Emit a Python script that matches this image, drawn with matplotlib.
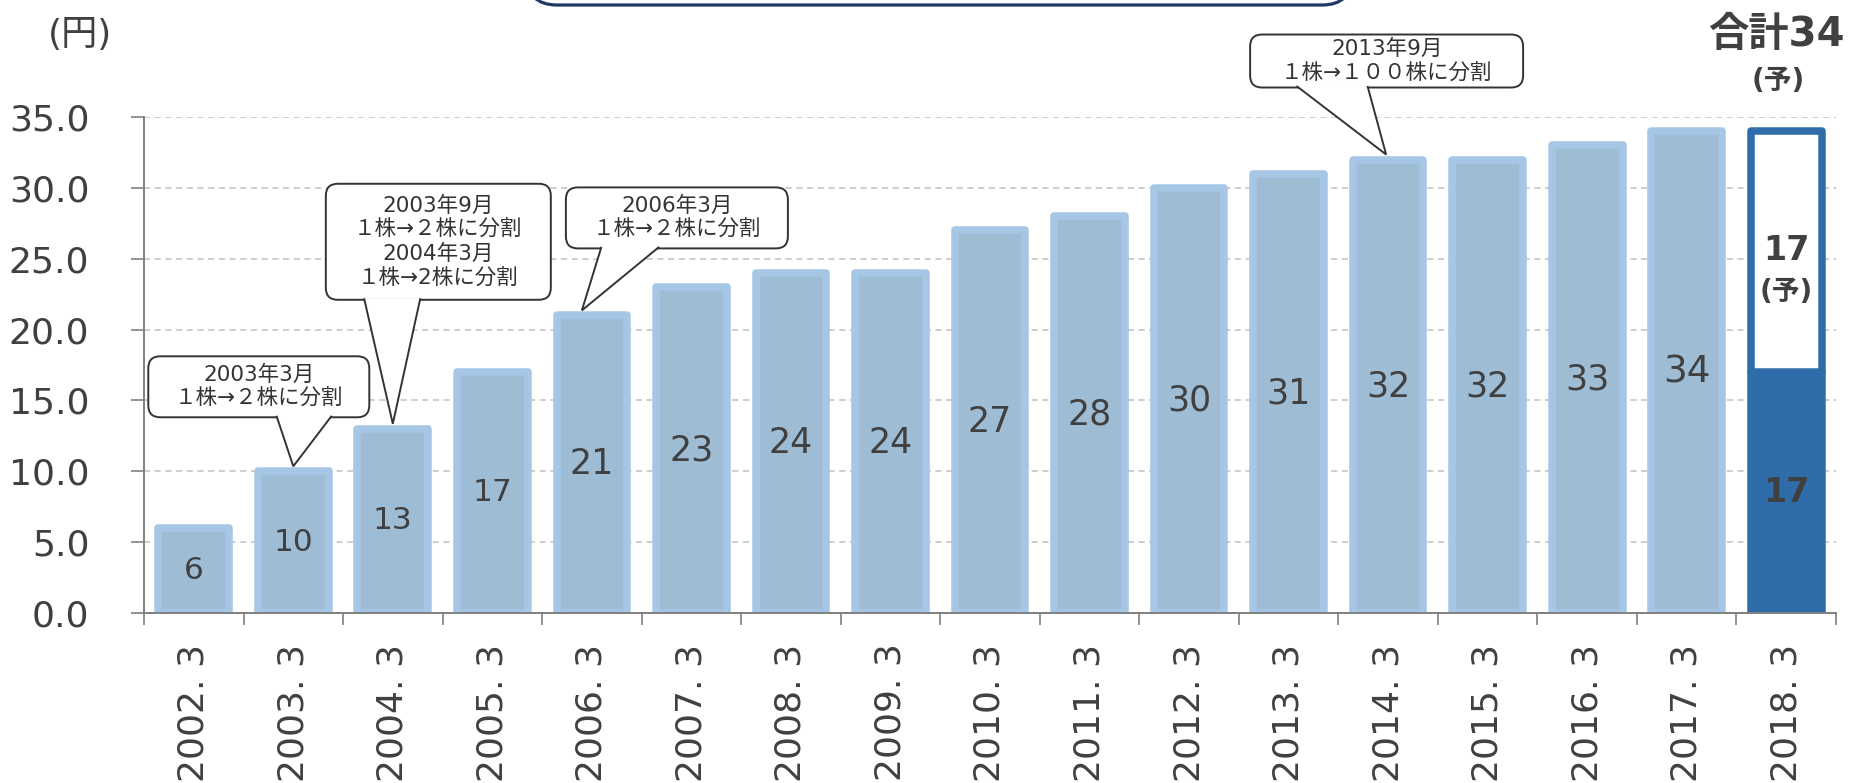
import matplotlib
matplotlib.use("Agg")
import matplotlib.pyplot as plt
import numpy as np
from matplotlib.patches import FancyBboxPatch, Polygon
from matplotlib.transforms import IdentityTransform

plt.rcParams["font.family"] = ["DejaVu Sans", "Noto Sans CJK JP"]

# fiscal periods and annual dividend per share (yen)
periods = ["2002. 3", "2003. 3", "2004. 3", "2005. 3", "2006. 3", "2007. 3",
           "2008. 3", "2009. 3", "2010. 3", "2011. 3", "2012. 3", "2013. 3",
           "2014. 3", "2015. 3", "2016. 3", "2017. 3", "2018. 3"]
dividends = [6, 10, 13, 17, 21, 23, 24, 24, 27, 28, 30, 31, 32, 32, 33, 34]
forecast_interim = 17
forecast_final = 17

# stock split notes: (bar index, text)
split_idx = [1, 2, 4, 12]
split_text = [
    "2003年3月\n１株→２株に分割",
    "2003年9月\n１株→２株に分割\n2004年3月\n１株→2株に分割",
    "2006年3月\n１株→２株に分割",
    "2013年9月\n１株→１００株に分割",
]
# callout geometry in pixels: tip dx, box left, box right, gap above tip, height, pointer base fractions
callout_geo = [
    (0, -145, 76, 49, 61, 0.58, 0.83),
    (0, -67, 158, 124, 116, 0.17, 0.42),
    (-10, -16, 206, 62, 61, 0.16, 0.42),
    (-2, -136, 137, 67, 53, 0.17, 0.43),
]

TXT = "#404040"
BAR_FACE = "#9EBDD5"
BAR_EDGE = "#A5C6E5"
DARK = "#2E6DAA"

fig = plt.figure(figsize=(18.5, 7.83), dpi=100, facecolor="white")
ax = fig.add_axes([144 / 1850, 170 / 783, (1836 - 144) / 1850, (666 - 170) / 783])

x = np.arange(len(periods))
bw = 0.71
ax.bar(x[:-1], dividends, width=bw, color=BAR_FACE, edgecolor=BAR_EDGE,
       linewidth=5.4, joinstyle="round", zorder=3)
ax.bar(x[-1], forecast_interim, width=bw, color=DARK, edgecolor=DARK,
       linewidth=5.4, joinstyle="round", zorder=3)
ax.bar(x[-1], forecast_final, bottom=forecast_interim, width=bw, color="white",
       edgecolor=DARK, linewidth=5.4, joinstyle="round", zorder=3)

for xi, v in zip(x[:-1], dividends):
    fs = 22.5 if v < 20 else (27 if v >= 34 else 25)
    ax.text(xi, v / 2, f"{v}", ha="center", va="center", fontsize=fs, color=TXT, zorder=4)

ax.text(x[-1], forecast_interim / 2, f"{forecast_interim}", ha="center", va="center",
        fontsize=24, fontweight="bold", color=TXT, zorder=4)
ax.text(x[-1], forecast_interim + forecast_final / 2 + 0.1, f"{forecast_final}",
        ha="center", va="center", fontsize=24, fontweight="bold", color=TXT, zorder=4)
ax.annotate("(予)", (x[-1], forecast_interim + forecast_final / 2 + 0.1),
            xytext=(0, -30), textcoords="offset points", ha="center", va="center",
            fontsize=20, fontweight="bold", color=TXT, zorder=4)
total = forecast_interim + forecast_final
ax.annotate(f"合計{total}", (x[-1], total), xytext=(-7, 69), textcoords="offset points",
            ha="center", va="center", fontsize=29, fontweight="bold", color=TXT,
            annotation_clip=False)
ax.annotate("(予)", (x[-1], total), xytext=(-6, 36), textcoords="offset points",
            ha="center", va="center", fontsize=20, fontweight="bold", color=TXT,
            annotation_clip=False)

ax.set_xlim(-0.5, len(periods) - 0.5)
ax.set_ylim(0, 35)
ax.set_yticks(np.arange(0, 35.1, 5))
ax.set_yticklabels([f"{t:.1f}" for t in np.arange(0, 35.1, 5)])
ax.tick_params(axis="y", labelsize=26, labelcolor=TXT, color="#808080",
               length=9.4, width=1.2, pad=30)
ax.set_xticks(x)
ax.set_xticklabels(periods, rotation=90, va="top", ha="center")
ax.tick_params(axis="x", which="major", length=0, labelsize=26, labelcolor=TXT, pad=22)
ax.set_xticks(np.arange(-0.5, len(periods), 1), minor=True)
ax.tick_params(axis="x", which="minor", length=8.6, width=1.2, color="#808080")

ax.grid(axis="y", color="#C0C0C0", linestyle=(0, (4, 3)), linewidth=1.1, zorder=0)
for s in ["top", "right"]:
    ax.spines[s].set_visible(False)
for s in ["left", "bottom"]:
    ax.spines[s].set_color("#808080")
    ax.spines[s].set_linewidth(1.4)
ax.spines["bottom"].set_zorder(5)

fig.text(80 / 1850, 1 - 35 / 783, "(円)", ha="center", va="center", fontsize=26, color=TXT)

# rounded title frame at the top edge (cut off by the figure)
frame = FancyBboxPatch((527, 778), 825, 120, boxstyle="round,pad=0,rounding_size=30",
                       transform=IdentityTransform(), facecolor="white",
                       edgecolor="#1F3864", linewidth=2.3)
fig.add_artist(frame)

# split callouts
for idx, text, geo in zip(split_idx, split_text, callout_geo):
    tdx, left, right, gap, h, b0, b1 = geo
    tx, ty = ax.transData.transform((x[idx], dividends[idx]))
    tx += tdx
    ty += 5
    x0, x1 = tx + left, tx + right
    y0 = ty + gap
    w = x1 - x0
    box = FancyBboxPatch((x0, y0), w, h, boxstyle="round,pad=0,rounding_size=12",
                         transform=IdentityTransform(), facecolor="white",
                         edgecolor="#333333", linewidth=1.4, zorder=6)
    fig.add_artist(box)
    ptr = Polygon([(x0 + b0 * w, y0 + 1.5), (tx, ty), (x0 + b1 * w, y0 + 1.5)],
                  closed=False, transform=IdentityTransform(), facecolor="white",
                  edgecolor="#333333", linewidth=1.4, zorder=7)
    fig.add_artist(ptr)
    fig.text((x0 + w / 2) / 1850, (y0 + h / 2) / 783, text, ha="center", va="center",
             fontsize=15.5, color="#333333", linespacing=1.25, zorder=8)

fig.savefig("out.png", dpi=100, facecolor="white")
